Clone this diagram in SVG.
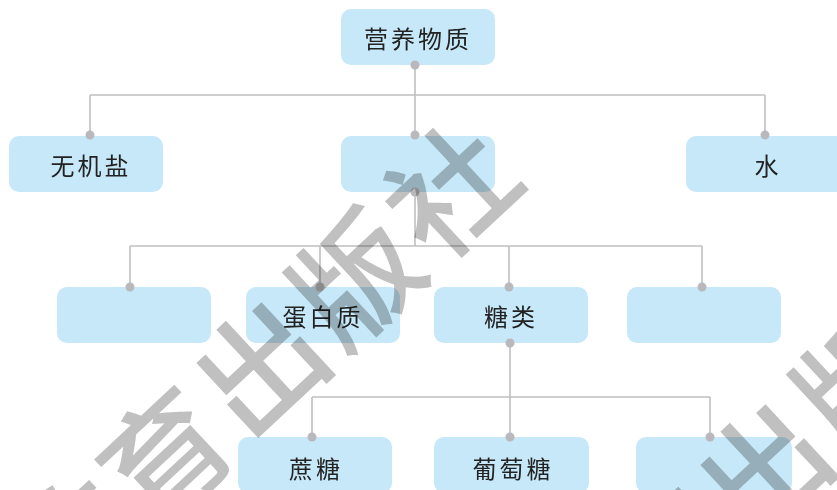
<svg xmlns="http://www.w3.org/2000/svg" width="837" height="490" viewBox="0 0 837 490">
<style>
.box{fill:#c7e8f8}
.lbl{font-family:"Noto Sans CJK SC","Noto Sans",sans-serif;font-size:24px;fill:#222;text-anchor:middle;dominant-baseline:central;letter-spacing:3px}
.ln{stroke:#c0c0c2;stroke-width:1.6;fill:none}
.dot{fill:#b9b9bd}
.wm{font-family:"Noto Sans CJK SC",sans-serif;font-weight:500;font-size:124px;fill:#c0c0c0;text-anchor:middle;dominant-baseline:central;letter-spacing:6px;mix-blend-mode:multiply}
</style>
<rect width="837" height="490" fill="#fff"/>
<g id="connectors">
<path class="ln" d="M415 65V135M90 95H765M90 95V135M765 95V135"/>
<path class="ln" d="M415 192V246M130 246H702M130 246V287M320 246V287M509 246V287M702 246V287"/>
<path class="ln" d="M510 343V437M312 397H710M312 397V437M710 397V437"/>
</g>
<g id="n-root"><rect class="box" x="341" y="9" width="154" height="56" rx="10"/><text class="lbl" x="418" y="37">营养物质</text></g>
<g id="n-salt"><rect class="box" x="9" y="136" width="154" height="56" rx="10"/><text class="lbl" x="91" y="164">无机盐</text></g>
<g id="n-organic"><rect class="box" x="341" y="136" width="154" height="56" rx="10"/></g>
<g id="n-water"><rect class="box" x="686" y="136" width="160" height="56" rx="10"/><text class="lbl" x="768" y="164">水</text></g>
<g id="n-blank1"><rect class="box" x="57" y="287" width="154" height="56" rx="10"/></g>
<g id="n-protein"><rect class="box" x="246" y="287" width="154" height="56" rx="10"/><text class="lbl" x="323" y="315">蛋白质</text></g>
<g id="n-sugar"><rect class="box" x="434" y="287" width="154" height="56" rx="10"/><text class="lbl" x="511" y="315">糖类</text></g>
<g id="n-blank2"><rect class="box" x="627" y="287" width="154" height="56" rx="10"/></g>
<g id="n-sucrose"><rect class="box" x="238" y="437" width="154" height="56" rx="10"/><text class="lbl" x="316" y="467">蔗糖</text></g>
<g id="n-glucose"><rect class="box" x="434" y="437" width="155" height="56" rx="10"/><text class="lbl" x="513" y="467">葡萄糖</text></g>
<g id="n-blank3"><rect class="box" x="636" y="437" width="156" height="56" rx="10"/></g>
<g id="dots">
<circle class="dot" cx="415" cy="65" r="4.5"/>
<circle class="dot" cx="90" cy="135" r="4.5"/>
<circle class="dot" cx="415" cy="135" r="4.5"/>
<circle class="dot" cx="765" cy="135" r="4.5"/>
<circle class="dot" cx="415" cy="192" r="4.5"/>
<circle class="dot" cx="130" cy="287" r="4.5"/>
<circle class="dot" cx="320" cy="287" r="4.5"/>
<circle class="dot" cx="509" cy="287" r="4.5"/>
<circle class="dot" cx="702" cy="287" r="4.5"/>
<circle class="dot" cx="510" cy="343" r="4.5"/>
<circle class="dot" cx="312" cy="437" r="4.5"/>
<circle class="dot" cx="510" cy="437" r="4.5"/>
<circle class="dot" cx="710" cy="437" r="4.5"/>
</g>
<g id="watermark">
<text class="wm" transform="translate(258 360) rotate(-43)">教育出版社</text>
<text class="wm" transform="translate(762 462) rotate(-43)">教育出版社</text>
</g>
</svg>
